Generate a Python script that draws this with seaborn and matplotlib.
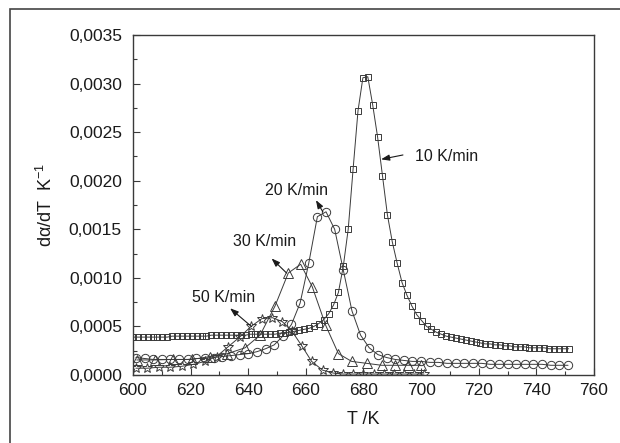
import numpy as np
import pandas as pd
import seaborn as sns
import matplotlib
matplotlib.use('Agg')
import matplotlib.pyplot as plt
from matplotlib.patches import Rectangle
from matplotlib.ticker import FuncFormatter, MultipleLocator

# 10 K/min (squares)
t_10 = [600.0, 601.7, 603.4, 605.1, 606.8, 608.5, 610.2, 611.9, 613.6, 615.3,
        617.0, 618.7, 620.4, 622.1, 623.8, 625.5, 627.2, 628.9, 630.6, 632.3,
        634.0, 635.7, 637.4, 639.1, 640.8, 642.5, 644.2, 645.9, 647.6, 649.3,
        650.9, 652.6, 654.3, 656.0, 657.7, 659.4, 661.1, 662.8, 664.5, 666.2,
        667.9, 669.6, 671.3, 673.0, 674.7, 676.4, 678.1, 679.8, 681.5, 683.2,
        684.9, 686.6, 688.3, 690.0, 691.7, 693.4, 695.1, 696.8, 698.5, 700.2,
        701.9, 703.6, 705.3, 707.0, 708.7, 710.4, 712.1, 713.8, 715.5, 717.2,
        718.9, 720.6, 722.3, 724.0, 725.7, 727.4, 729.1, 730.8, 732.5, 734.2,
        735.9, 737.6, 739.3, 741.0, 742.7, 744.4, 746.1, 747.8, 749.5, 751.2]
v_10 = [0.00039, 0.00039, 0.00039, 0.00039, 0.00039, 0.00039, 0.00039, 0.00039, 0.00040, 0.00040,
        0.00040, 0.00040, 0.00040, 0.00040, 0.00040, 0.00040, 0.00041, 0.00041, 0.00041, 0.00041,
        0.00041, 0.00041, 0.00041, 0.00041, 0.00042, 0.00042, 0.00042, 0.00042, 0.00042, 0.00042,
        0.00043, 0.00043, 0.00044, 0.00045, 0.00046, 0.00047, 0.00048, 0.00050, 0.00053, 0.00057,
        0.00063, 0.00072, 0.00085, 0.00112, 0.00150, 0.00212, 0.00272, 0.00306, 0.00307, 0.00278,
        0.00245, 0.00205, 0.00165, 0.00137, 0.00115, 0.00095, 0.00082, 0.00071, 0.00062, 0.00056,
        0.00050, 0.00047, 0.00044, 0.00042, 0.00040, 0.00039, 0.00038, 0.00037, 0.00036, 0.00035,
        0.00034, 0.00033, 0.00032, 0.00032, 0.00031, 0.00031, 0.00030, 0.00030, 0.00029, 0.00029,
        0.00029, 0.00028, 0.00028, 0.00028, 0.00028, 0.00027, 0.00027, 0.00027, 0.00027, 0.00027]

# 20 K/min (circles)
t_20 = [601, 604, 607, 610, 613, 616, 619, 622, 625, 628, 631, 634, 637, 640, 643, 646, 649,
        652, 655, 658, 661, 664, 667, 670, 673, 676, 679, 682, 685, 688, 691, 694, 697, 700,
        703, 706, 709, 712, 715, 718, 721, 724, 727, 730, 733, 736, 739, 742, 745, 748, 751]
v_20 = [0.00018, 0.00017, 0.00016, 0.00016, 0.00016, 0.00016, 0.00016, 0.00017, 0.00017,
        0.00018, 0.00019, 0.00020, 0.00021, 0.00022, 0.00024, 0.00027, 0.00031, 0.00040,
        0.00052, 0.00074, 0.00115, 0.00163, 0.00168, 0.00150, 0.00108, 0.00066, 0.00041,
        0.00028, 0.00021, 0.00018, 0.00016, 0.00015, 0.00014, 0.00014, 0.00013, 0.00013,
        0.00012, 0.00012, 0.00012, 0.00012, 0.00012, 0.00011, 0.00011, 0.00011, 0.00011,
        0.00011, 0.00011, 0.00011, 0.00010, 0.00010, 0.00010]

# 30 K/min (triangles)
t_30 = [601.3, 607.6, 614.0, 620.4, 626.7, 632.8, 638.9, 644.1, 649.3, 653.9,
        658.2, 662.2, 666.9, 671.3, 675.9, 681.1, 686.3, 691.0, 695.5, 700.0]
v_30 = [0.000155, 0.000155, 0.00016, 0.00016, 0.00019, 0.00022, 0.00028, 0.00041, 0.00071, 0.00105,
        0.00114, 0.00091, 0.00051, 0.00022, 0.00014, 0.00012, 0.00010, 0.00010, 0.00010, 0.00010]

# 50 K/min (stars)
t_50 = [601, 605, 609, 613, 617, 621, 625, 629, 633, 637, 641, 644.7, 648.4, 651.8,
        655.2, 658.6, 662, 665.8, 669.5, 673, 676.5, 680, 683.5, 687, 690.5, 694, 697.5, 701]
v_50 = [0.00007, 0.00007, 0.00008, 0.00008, 0.00009, 0.00011, 0.00014, 0.00019, 0.00029, 0.00039,
        0.00050, 0.00058, 0.00059, 0.00055, 0.00045, 0.00030, 0.00014, 0.00005, 0.00002, 0.00001,
        0.00001, 0.00001, 0.00001, 0.00001, 0.00001, 0.00001, 0.00001, 0.00001]

rate_labels = ['10 K/min', '20 K/min', '30 K/min', '50 K/min']

sns.set_style('ticks')
plt.rcParams['font.family'] = ['Liberation Sans', 'DejaVu Sans']
plt.rcParams['mathtext.fontset'] = 'custom'
plt.rcParams['mathtext.rm'] = 'Liberation Sans'
plt.rcParams['mathtext.it'] = 'Liberation Sans'

fig = plt.figure(figsize=(6.2, 4.43), dpi=100)
ax = fig.add_axes([0.2145, 0.1535, 0.7435, 0.7675])

ink = '#3a3a3a'
txt_col = '#1a1a1a'
series = [(t_10, v_10, 's', 5.0), (t_20, v_20, 'o', 6.0), (t_30, v_30, '^', 6.5), (t_50, v_50, '*', 7.5)]
for (t, v, mk, ms), lab in zip(series, rate_labels):
    df = pd.DataFrame({'T': t, 'v': v})
    sns.lineplot(data=df, x='T', y='v', ax=ax, color=ink, lw=0.7, marker=mk, markersize=ms,
                 markerfacecolor='none', markeredgecolor=ink, markeredgewidth=0.7,
                 estimator=None, sort=False, legend=False)

ax.set_xlim(600, 760)
ax.set_ylim(0, 0.0035)
ax.xaxis.set_major_locator(MultipleLocator(20))
ax.xaxis.set_minor_locator(MultipleLocator(10))
ax.yaxis.set_major_locator(MultipleLocator(0.0005))
ax.yaxis.set_minor_locator(MultipleLocator(0.00025))
ax.yaxis.set_major_formatter(FuncFormatter(lambda y, p: f'{y:.4f}'.replace('.', ',')))
ax.tick_params(which='both', direction='in', colors=ink, labelcolor=txt_col, labelsize=12.5,
               top=False, right=False)
ax.tick_params(axis='y', which='major', pad=8)
ax.tick_params(axis='x', which='major', pad=6)
ax.tick_params(which='major', length=5, width=0.8)
ax.tick_params(which='minor', length=3, width=0.8)
for s in ax.spines.values():
    s.set_color(ink)
    s.set_linewidth(1.0)

ax.set_xlabel('T /K', fontsize=13, color=txt_col, labelpad=9)
ax.set_ylabel(r'd$\alpha$/dT  K$^{-1}$', fontsize=13, color=txt_col, labelpad=9)

arrow = dict(arrowstyle='-|>,head_length=0.5,head_width=0.18', color=txt_col, lw=0.8,
             shrinkA=0, shrinkB=0)
notes = [(rate_labels[0], (697.9, 0.00225), (686.1, 0.00222), (693.7, 0.002265)),
         (rate_labels[1], (645.8, 0.00190), (663.5, 0.00180), (665.9, 0.00168)),
         (rate_labels[2], (634.7, 0.00137), (648.1, 0.00120), (653.3, 0.00105)),
         (rate_labels[3], (620.4, 0.00080), (633.7, 0.000687), (641.2, 0.000497))]
for lab, txt, head, tail in notes:
    ax.text(txt[0], txt[1], lab, fontsize=11.5, color=txt_col, ha='left', va='center')
    ax.annotate('', xy=head, xytext=tail, arrowprops=arrow)

fig.add_artist(Rectangle((9.5 / 620, -0.05), 1.2, 1 - 9.5 / 443 + 0.05, transform=fig.transFigure,
                         fill=False, lw=1.2, ec='#444444'))

fig.savefig('out.png', dpi=100)
